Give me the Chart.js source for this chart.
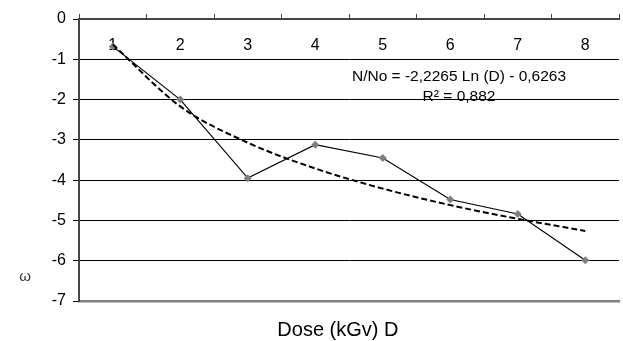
<!DOCTYPE html>
<html>
<head>
<meta charset="utf-8">
<script src="https://cdn.jsdelivr.net/npm/chart.js@4.4.1/dist/chart.umd.min.js"></script>
<style>
  html, body { margin: 0; padding: 0; background: #ffffff; }
  #wrap { position: relative; width: 623px; height: 341px; }
</style>
</head>
<body>
<div id="wrap"><canvas id="c" width="623" height="341"></canvas></div>
<script>
// ---- data ----
const doseLabels = ['1', '2', '3', '4', '5', '6', '7', '8'];
const survivalValues = [-0.68, -2.0, -3.95, -3.12, -3.45, -4.48, -4.84, -5.99];
const trendValues = [-0.63, -2.17, -3.07, -3.71, -4.21, -4.62, -4.96, -5.26];
const yMin = -7;
const yMax = 0;
const yStep = 1;
const equationText = 'N/No = -2,2265 Ln (D) - 0,6263';
const r2Text = 'R² = 0,882';
const xTitleText = 'Dose (kGv) D    ';
const yTitleFragment = 'ω';

const FONT = '"Liberation Sans", Arial, sans-serif';

const annotationPlugin = {
  id: 'annot',
  afterDraw(chart) {
    const { ctx, scales } = chart;
    const x = scales.x, y = scales.y;
    ctx.save();
    ctx.fillStyle = '#000';
    ctx.font = '15.5px ' + FONT;
    ctx.textAlign = 'center';
    ctx.textBaseline = 'middle';
    const cx = x.getPixelForValue(5.13);
    ctx.fillText(equationText, cx, y.getPixelForValue(-1.43));
    ctx.fillText(r2Text, cx, y.getPixelForValue(-1.94));
    // clipped fragment of the rotated y-axis title
    ctx.fillStyle = '#333';
    ctx.font = '15px ' + FONT;
    ctx.fillText(yTitleFragment, 25, 277);
    ctx.restore();
  }
};

new Chart(document.getElementById('c'), {
  type: 'line',
  data: {
    labels: doseLabels,
    datasets: [
      {
        label: 'N/No',
        data: survivalValues,
        borderColor: '#000',
        borderWidth: 1.2,
        pointStyle: 'rectRot',
        pointRadius: 4,
        pointBackgroundColor: '#7f7f7f',
        pointBorderColor: '#7f7f7f',
        pointBorderWidth: 0,
        tension: 0,
        order: 2
      },
      {
        label: 'Log trend',
        data: trendValues,
        borderColor: '#000',
        borderWidth: 2,
        borderDash: [6, 3],
        pointRadius: 0,
        cubicInterpolationMode: 'monotone',
        order: 1
      }
    ]
  },
  options: {
    responsive: false,
    animation: false,
    devicePixelRatio: 1,
    layout: { padding: { left: 0, right: -2, top: 0, bottom: 0 } },
    plugins: {
      legend: { display: false },
      tooltip: { enabled: false },
      title: { display: false }
    },
    scales: {
      x: {
        type: 'category',
        position: 'top',
        offset: true,
        afterFit(scale) { scale.height = 19; },
        grid: {
          display: true,
          offset: true,
          drawOnChartArea: false,
          drawTicks: true,
          tickLength: 5,
          color: '#444',
          lineWidth: 1
        },
        border: { display: true, color: '#444', width: 2 },
        ticks: {
          mirror: true,
          padding: 17,
          autoSkip: false,
          maxRotation: 0,
          color: '#000',
          font: { family: FONT, size: 16 }
        }
      },
      x2: {
        type: 'category',
        position: 'bottom',
        labels: doseLabels,
        offset: true,
        afterFit(scale) { scale.height = 40; },
        grid: { display: false, drawTicks: false },
        border: { display: true, color: '#808080', width: 2.5 },
        ticks: { display: false },
        title: {
          display: true,
          text: xTitleText,
          color: '#000',
          font: { family: FONT, size: 20, lineHeight: 1 },
          padding: { top: 0, bottom: 1 }
        }
      },
      y: {
        type: 'linear',
        position: 'left',
        min: yMin,
        max: yMax,
        afterFit(scale) { scale.width = 79; },
        ticks: {
          stepSize: yStep,
          color: '#000',
          padding: 7,
          font: { family: FONT, size: 16 }
        },
        grid: {
          color: (c) => (c.tick && (c.tick.value === yMin || c.tick.value === yMax)) ? 'rgba(0,0,0,0)' : '#000',
          tickColor: '#000',
          lineWidth: 1,
          tickLength: 6
        },
        border: { display: true, color: '#444', width: 2 }
      }
    }
  },
  plugins: [annotationPlugin]
});
</script>
</body>
</html>
